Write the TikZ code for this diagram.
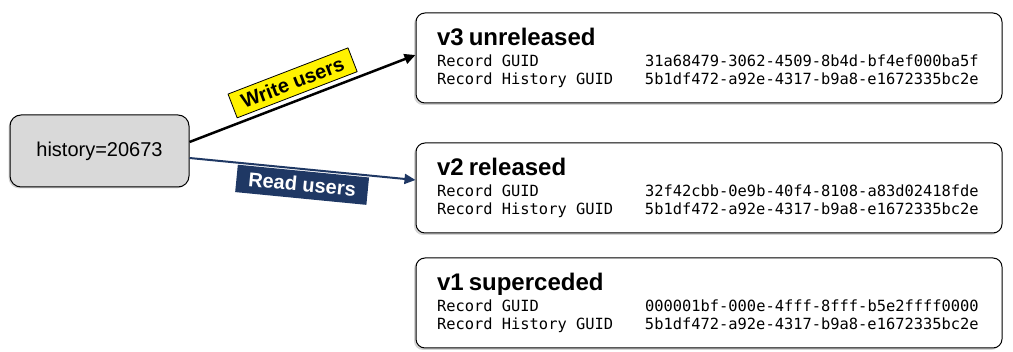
\documentclass[tikz,border=0pt]{standalone}
\usepackage{fontspec}
\setmainfont{Liberation Sans}
\setmonofont{DejaVu Sans Mono}
\usepackage{tikz}
\usetikzlibrary{arrows.meta,shadows}
\definecolor{navy}{RGB}{31,56,100}
\definecolor{boxgray}{RGB}{217,217,217}
\newcommand{\vtitle}[1]{{\rmfamily\bfseries\fontsize{24bp}{26bp}\selectfont #1}}
\newcommand{\gs}{\hspace*{.602em}}
\newcommand{\guidrow}[2]{\makebox[208bp][l]{#1}#2}

\begin{document}
\begin{tikzpicture}[>={Triangle[length=11bp,width=10bp]},line join=bevel,
  verbox/.style={draw,line width=1bp,rounded corners=9bp,fill=white,minimum width=586bp,minimum height=90bp,
    text width=544bp,inner xsep=21bp,align=left,font=\fontsize{15.4bp}{18.5bp}\ttfamily,
    drop shadow={shadow xshift=-2bp,shadow yshift=-2bp,opacity=.35}},
  histbox/.style={draw,line width=1bp,rounded corners=11bp,fill=boxgray,minimum width=179bp,minimum height=72bp,
    font=\fontsize{20bp}{24bp}\selectfont,
    drop shadow={shadow xshift=-1.5bp,shadow yshift=-1.5bp,opacity=.35}},
  linklab/.style={font=\fontsize{20bp}{22bp}\selectfont\bfseries,inner xsep=10bp,inner ysep=5bp,
    text height=14.5bp,text depth=1bp,sloped},
  ]
\useasboundingbox (0bp,0bp) rectangle (1013bp,352bp);
%%
  \node (history) at (99.5bp,201bp) [histbox] {history=20673};
  \node (v3) at (709bp,294bp) [verbox] {\vtitle{v3 unreleased}\\[2.5bp]
    \guidrow{Record\gs GUID}{31a68479-3062-4509-8b4d-bf4ef000ba5f}\\
    \guidrow{Record\gs History\gs GUID}{5b1df472-a92e-4317-b9a8-e1672335bc2e}};
  \node (v2) at (709bp,164bp) [verbox] {\vtitle{v2 released}\\[2.5bp]
    \guidrow{Record\gs GUID}{32f42cbb-0e9b-40f4-8108-a83d02418fde}\\
    \guidrow{Record\gs History\gs GUID}{5b1df472-a92e-4317-b9a8-e1672335bc2e}};
  \node (v1) at (709bp,49bp) [verbox] {\vtitle{v1 superceded}\\[2.5bp]
    \guidrow{Record\gs GUID}{000001bf-000e-4fff-8fff-b5e2ffff0000}\\
    \guidrow{Record\gs History\gs GUID}{5b1df472-a92e-4317-b9a8-e1672335bc2e}};
  \draw [->,line width=2.5bp,black] ([yshift=9bp]history.east) -- ([yshift=3bp]v3.west)
    node (wlab) [linklab,pos=.485,anchor=south,yshift=5bp,draw=black,line width=.8bp,fill=yellow,text=black] {Write users};
  \draw [->,line width=2bp,navy] ([yshift=-7bp]history.east) -- ([yshift=8bp]v2.west)
    node (rlab) [linklab,pos=.505,anchor=north,yshift=-1bp,inner xsep=12bp,inner ysep=6bp,fill=navy,text=white] {Read users};
%
\end{tikzpicture}
\end{document}
